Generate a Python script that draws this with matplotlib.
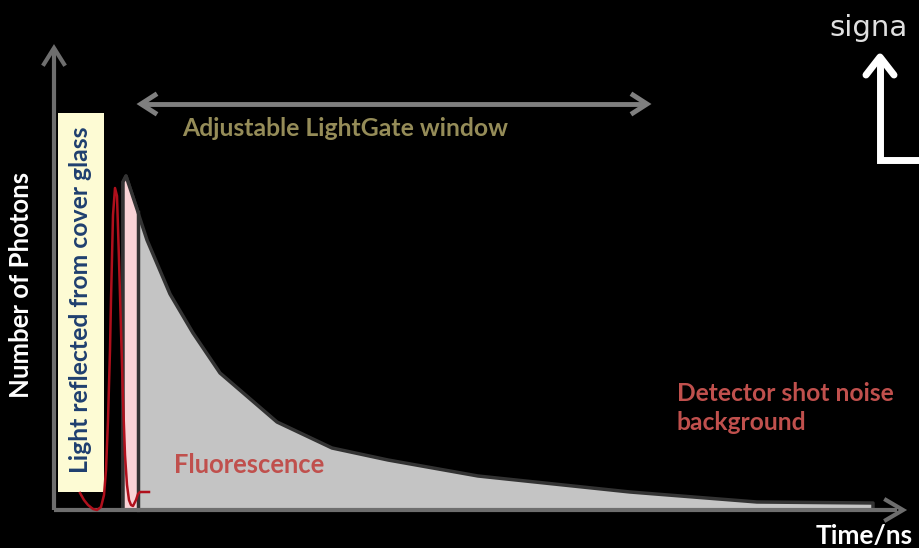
import numpy as np
import matplotlib
matplotlib.use("Agg")
import matplotlib.pyplot as plt
from matplotlib.patches import Polygon, Rectangle

# fluorescence decay outline (pixel space of the 919x548 sketch, y down)
decay_x = [123, 126, 147, 170, 193, 220, 277, 332, 388, 478, 630, 757, 873]
decay_y = [182, 176, 240, 294, 333, 373, 422, 448, 460, 476, 492, 502, 503]
# pink gate strip under the rising edge
gate_x = [123, 123, 126, 138, 138]
gate_y = [510, 182, 176, 212, 510]
# reflected light pulse (red)
refl_x = [80, 84, 88, 93, 97, 101, 104, 106, 108, 110, 111, 113, 115, 117,
          119, 121, 123, 125, 127, 129, 131, 133, 136, 138, 140, 149]
refl_y = [493, 500, 505, 509, 510, 507, 495, 470, 420, 350, 300, 215, 188,
          196, 260, 330, 400, 455, 485, 500, 505, 506, 500, 494, 492, 492]

BASE = 510
AX_COL = "#6e6e6e"
RED = "#c0504d"
FONT = "Lato"

fig = plt.figure(figsize=(9.19, 5.48), dpi=100)
fig.patch.set_facecolor("black")
ax = fig.add_axes([0, 0, 1, 1])
ax.set_facecolor("black")
ax.set_xlim(0, 919)
ax.set_ylim(548, 0)
ax.axis("off")

# grey decay area
poly_x = [123] + decay_x + [873]
poly_y = [BASE] + decay_y + [BASE]
ax.add_patch(Polygon(np.column_stack([poly_x, poly_y]), closed=True,
                     facecolor="#c4c4c4", edgecolor="#333333", linewidth=2.5,
                     joinstyle="round", zorder=2))
# pink gate strip
ax.add_patch(Polygon(np.column_stack([gate_x, gate_y]), closed=True,
                     facecolor="#f9d3d6", edgecolor="none", zorder=3))
ax.plot([138, 138], [212, BASE], color="#333333", lw=2.5, zorder=3)
ax.plot(gate_x[:4], gate_y[:4], color="#333333", lw=2.5, zorder=3)

# axes with open arrowheads
ax.plot([54, 54], [BASE, 48], color=AX_COL, lw=3, zorder=4,
        solid_capstyle="butt")
ax.plot([54, 897], [BASE, BASE], color=AX_COL, lw=3, zorder=4,
        solid_capstyle="butt")
ax.plot([44, 54, 64], [64, 48, 64], color=AX_COL, lw=3, zorder=4,
        solid_joinstyle="miter")
ax.plot([886, 903, 886], [500, BASE, 520], color=AX_COL, lw=3, zorder=4,
        solid_joinstyle="miter")

# yellow note box
ax.add_patch(Rectangle((58, 113), 46, 379, facecolor="#fdfbd4",
                       edgecolor="none", zorder=4))
ax.text(81, 300, "Light reflected from cover glass", rotation=90,
        ha="center", va="center", color="#1f3f6f", fontsize=17.8,
        fontweight="bold", family=FONT, zorder=5)

# reflected pulse
ax.plot(refl_x, refl_y, color="#b0101c", lw=1.8, zorder=6)

# LightGate window arrow
ax.plot([142, 646], [104, 104], color="#7f7f7f", lw=3.5,
        solid_capstyle="butt", zorder=4)
ax.plot([155, 141, 155], [95, 104, 113], color="#7f7f7f", lw=3.5,
        solid_joinstyle="miter")
ax.plot([633, 647, 633], [95, 104, 113], color="#7f7f7f", lw=3.5,
        solid_joinstyle="miter")
ax.text(182, 129, "Adjustable LightGate window", ha="left", va="center",
        color="#958c58", fontsize=17.8, fontweight="bold", family=FONT)

ax.text(174, 465, "Fluorescence", ha="left", va="center", color=RED,
        fontsize=18.4, fontweight="bold", family=FONT, zorder=5)
ax.text(677, 408, "Detector shot noise\nbackground", ha="left",
        va="center", color=RED, fontsize=17.7, fontweight="bold",
        family=FONT, linespacing=1.3)

ax.text(21, 285, "Number of Photons", rotation=90, ha="center",
        va="center", color="white", fontsize=18.5, fontweight="bold",
        family=FONT)
ax.text(913, 536, "Time/ns", ha="right", va="center", color="white",
        fontsize=19, fontweight="bold", family=FONT)

# "signal" arrow at top right (label runs into the right edge)
ax.text(829, 36, "signa", ha="left", va="baseline", color="#e0e0e0",
        fontsize=21, family="DejaVu Sans")
ax.plot([880, 880, 925], [58, 160, 160], color="white", lw=5,
        solid_joinstyle="miter", solid_capstyle="butt")
ax.plot([866, 880, 894], [75, 57, 75], color="white", lw=5,
        solid_joinstyle="round", solid_capstyle="round")

fig.savefig("out.png", dpi=100, facecolor="black")
